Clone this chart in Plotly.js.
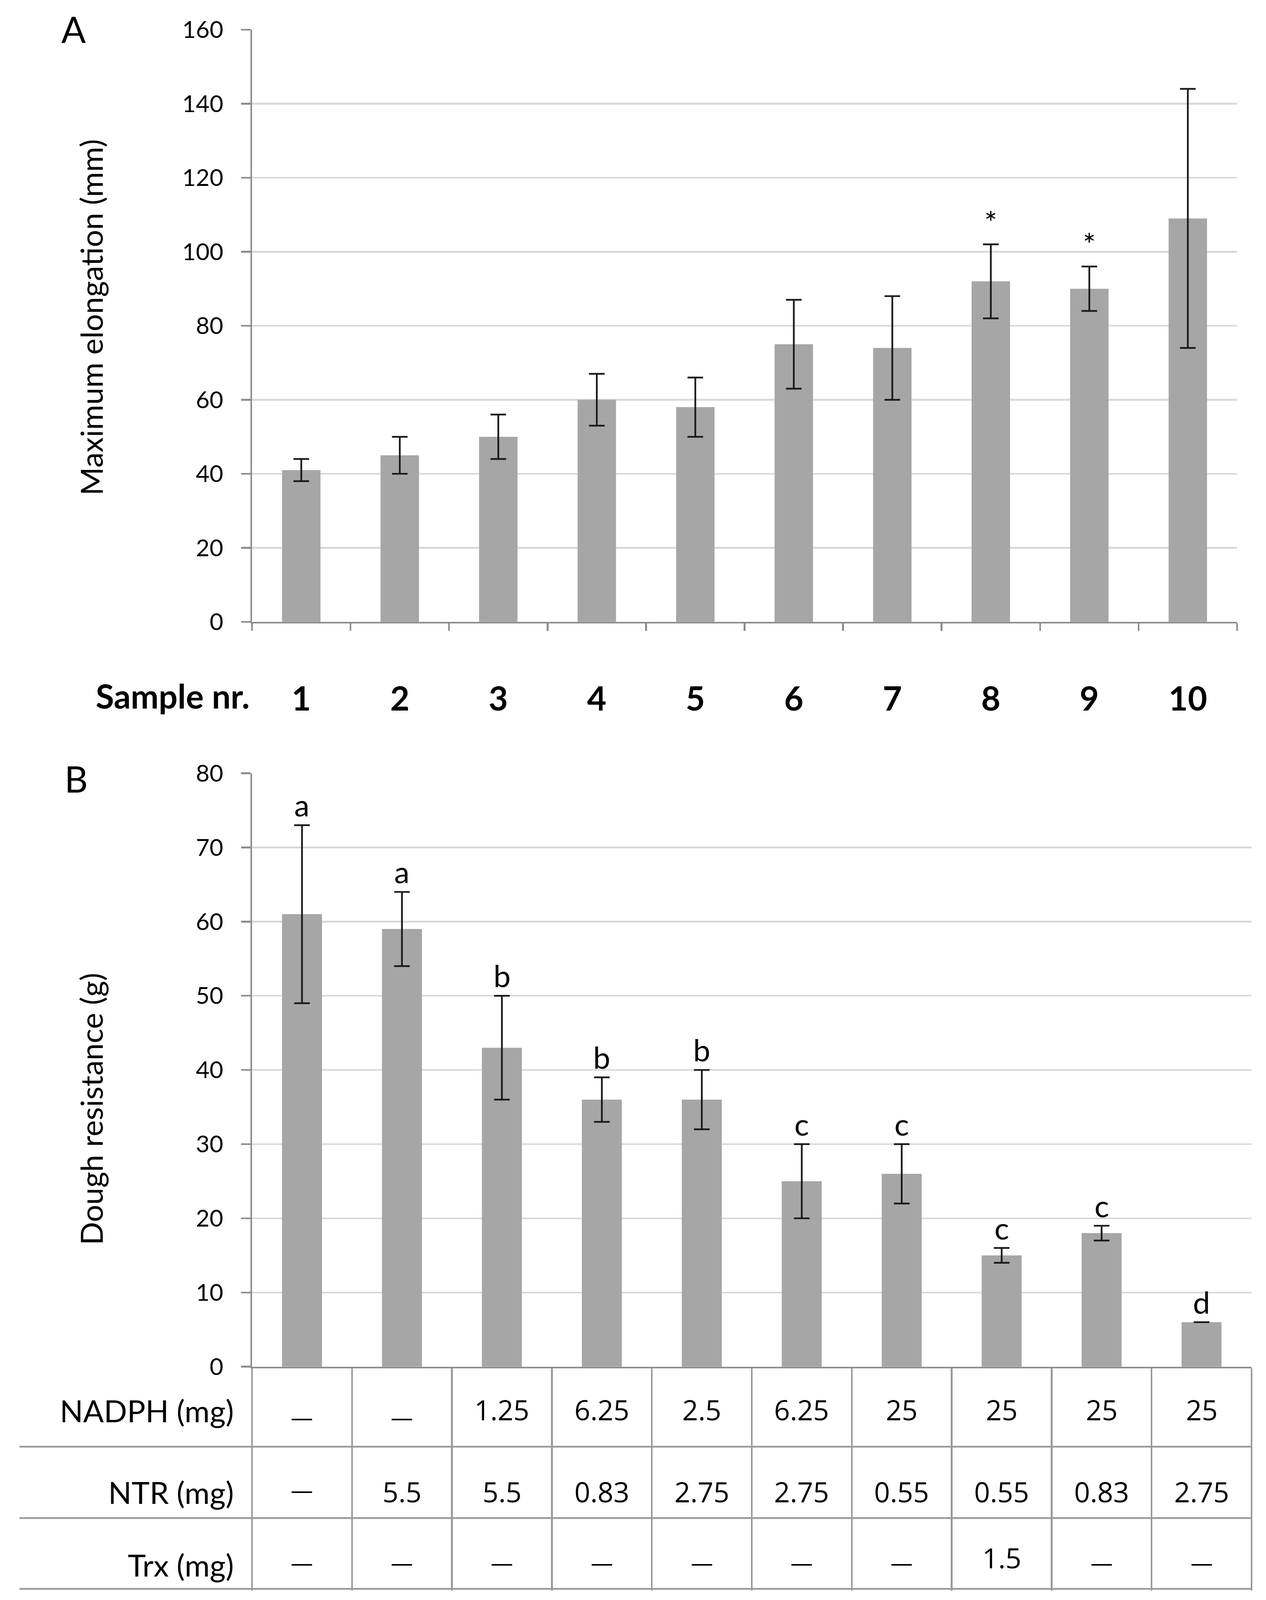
<!DOCTYPE html>
<html><head><meta charset="utf-8">
<script src="https://cdn.plot.ly/plotly-3.0.1.min.js"></script>
<style>html,body{margin:0;padding:0;background:#fff;overflow:hidden}</style>
</head><body><div id="chart"></div>
<script>
// ---- data ----
const samples = ['1','2','3','4','5','6','7','8','9','10'];
const elongation = [41,45,50,60,58,75,74,92,90,109];
const elongationErr = [3,5,6,7,8,12,14,10,6,35];
const elongationMarks = ['','','','','','','','*','*',''];
const resistance = [61,59,43,36,36,25,26,15,18,6];
const resistanceErr = [12,5,7,3,4,5,4,1,1,0];
const resistanceLetters = ['a','a','b','b','b','c','c','c','c','d'];
const nadph = ['—','—','1.25','6.25','2.5','6.25','25','25','25','25'];
const ntr = ['—','5.5','5.5','0.83','2.75','2.75','0.55','0.55','0.83','2.75'];
const trx = ['—','—','—','—','—','—','—','1.5','—','—'];
const rowLabels = ['NADPH (mg)','NTR (mg)','Trx (mg)'];
const ticksA = [0,20,40,60,80,100,120,140,160];
const gridA = [20,40,60,80,100,120,140];
const ticksB = [0,10,20,30,40,50,60,70,80];
const gridB = [10,20,30,40,50,60,70];

// ---- geometry: reference is 3240x5177; the figure fills the actual viewport ----
const W0 = 3240, H0 = 5177;
const VW = window.innerWidth || W0, VH = window.innerHeight || H0;
const kx = VW / W0, ky = VH / H0, kf = Math.sqrt(kx * ky);
const px = v => v / W0;          // reference pixel -> paper x
const py = v => 1 - v / H0;      // reference pixel -> paper y
const sx = v => v * kx, sy = v => v * ky, sf = v => v * kf;

const AX = '#8c8c8c', GRID = '#d9d9d9', TAB = '#9a9a9a', BAR = '#a6a6a6';
const FONT = 'Lato, "Open Sans", sans-serif';
const CELLFONT = '"Open Sans", Lato, sans-serif';

const errStyle = {type:'data', visible:true, color:'#1a1a1a', thickness:sf(5), width:sx(20)};

const traces = [
  {type:'bar', x:samples, y:elongation, xaxis:'x', yaxis:'y', width:0.39,
   marker:{color:BAR, line:{width:0}}, error_y:Object.assign({array:elongationErr}, errStyle),
   hoverinfo:'skip'},
  {type:'scatter', x:[], y:[], xaxis:'x', yaxis:'y3', showlegend:false, hoverinfo:'skip'},
  {type:'bar', x:samples, y:resistance, xaxis:'x2', yaxis:'y2', width:0.40,
   marker:{color:BAR, line:{width:0}}, error_y:Object.assign({array:resistanceErr}, errStyle),
   hoverinfo:'skip'},
  {type:'scatter', x:[], y:[], xaxis:'x2', yaxis:'y4', showlegend:false, hoverinfo:'skip'}
];

const annotations = [];
const txt = (size, extra) => Object.assign({family:FONT, size:sf(size), color:'#000'}, extra || {});
// panel letters
annotations.push({xref:'paper', yref:'paper', x:px(155), y:py(22), xanchor:'left', yanchor:'top',
  text:'A', showarrow:false, font:txt(104)});
annotations.push({xref:'paper', yref:'paper', x:px(163), y:py(2447), xanchor:'left', yanchor:'top',
  text:'B', showarrow:false, font:txt(104)});
// axis titles
annotations.push({xref:'paper', yref:'paper', x:px(233), y:py(1027), xanchor:'center', yanchor:'middle',
  textangle:-90, text:'Maximum elongation (mm)', showarrow:false, font:txt(88)});
annotations.push({xref:'paper', yref:'paper', x:px(233), y:py(3589), xanchor:'center', yanchor:'middle',
  textangle:-90, text:'Dough resistance (g)', showarrow:false, font:txt(88)});
// Sample nr.
annotations.push({xref:'paper', yref:'paper', x:px(641), y:py(2251), xanchor:'right', yanchor:'middle',
  text:'Sample nr.', showarrow:false, font:txt(96, {weight:700})});
// asterisks (x given as category index)
samples.forEach((s,i) => {
  if (elongationMarks[i]) annotations.push({xref:'x', yref:'y', x:i, y:elongation[i]+elongationErr[i],
    xanchor:'center', yanchor:'bottom', yshift:sy(10), text:elongationMarks[i], showarrow:false,
    font:txt(88)});
});
// significance letters
samples.forEach((s,i) => {
  annotations.push({xref:'x2', yref:'y2', x:i, y:resistance[i]+resistanceErr[i],
    xanchor:'center', yanchor:'bottom', yshift:sy(4), text:resistanceLetters[i], showarrow:false,
    font:txt(88)});
});
// table
const rows = [nadph, ntr, trx];
const rowTextY = [4561, 4826, 5040];
const rowDashY = [4584, 4819, 5054];
const rowLabelY = [4564, 4828, 5063];
rows.forEach((row, r) => {
  annotations.push({xref:'paper', yref:'paper', x:px(600), y:py(rowLabelY[r]), xanchor:'right', yanchor:'middle',
    text:rowLabels[r], showarrow:false, font:txt(88)});
  row.forEach((v, i) => {
    const dash = v === '—';
    annotations.push({xref:'x2', yref:'paper', x:i, y:py(dash ? rowDashY[r] : rowTextY[r]),
      xanchor:'center', yanchor:'middle', text:v, showarrow:false,
      font:{family:CELLFONT, size:sf(dash ? 64 : 80), color:'#000'}});
  });
});

const shapes = [4681, 4912, 5141].map(y => ({type:'line', xref:'paper', yref:'paper',
  x0:px(50), x1:px(3205), y0:py(y), y1:py(y), line:{color:TAB, width:sf(5)}}));

const yBase = {ticks:'outside', ticklen:sx(24), tickwidth:sf(5), tickcolor:AX, showline:true, linecolor:AX,
  linewidth:sf(5), showgrid:false, zeroline:false, tickfont:txt(68),
  ticklabelstandoff:Math.round(sx(33)), fixedrange:true};
const gBase = {showgrid:true, gridcolor:GRID, gridwidth:sf(5), showticklabels:false, ticks:'',
  showline:false, zeroline:false, fixedrange:true, side:'left'};

const layout = {
  width:VW, height:VH, margin:{l:0,r:0,t:0,b:0}, paper_bgcolor:'#fff', plot_bgcolor:'rgba(0,0,0,0)',
  showlegend:false, font:{family:FONT, color:'#000'},
  xaxis:{domain:[px(645), px(3166)], anchor:'y', type:'category', range:[-0.5, 9.5],
    tickson:'boundaries', ticks:'outside', ticklen:sy(23), tickwidth:sf(5), tickcolor:AX,
    showline:true, linecolor:AX, linewidth:sf(5), showgrid:false, zeroline:false,
    tickfont:txt(96, {weight:700}), ticklabelstandoff:Math.round(sy(152)), fixedrange:true},
  yaxis:Object.assign({domain:[py(2012), py(96)], anchor:'x', range:[0,160], tickmode:'array', tickvals:ticksA}, yBase),
  yaxis3:Object.assign({overlaying:'y', anchor:'x', range:[0,160], tickmode:'array', tickvals:gridA}, gBase),
  xaxis2:{domain:[px(645), px(3203)], anchor:'y2', type:'category', range:[-0.5, 9.5],
    tickson:'boundaries', ticks:'outside', ticklen:sy(719), tickwidth:sf(5), tickcolor:TAB,
    showline:true, linecolor:AX, linewidth:sf(5), showgrid:false, zeroline:false,
    showticklabels:false, fixedrange:true},
  yaxis2:Object.assign({domain:[py(4422), py(2502)], anchor:'x2', range:[0,80], tickmode:'array', tickvals:ticksB}, yBase),
  yaxis4:Object.assign({overlaying:'y2', anchor:'x2', range:[0,80], tickmode:'array', tickvals:gridB}, gBase),
  annotations:annotations, shapes:shapes
};

document.getElementById('chart').style.width = VW + 'px';
document.getElementById('chart').style.height = VH + 'px';
Plotly.newPlot('chart', traces, layout, {staticPlot:true, displayModeBar:false});
</script></body></html>
